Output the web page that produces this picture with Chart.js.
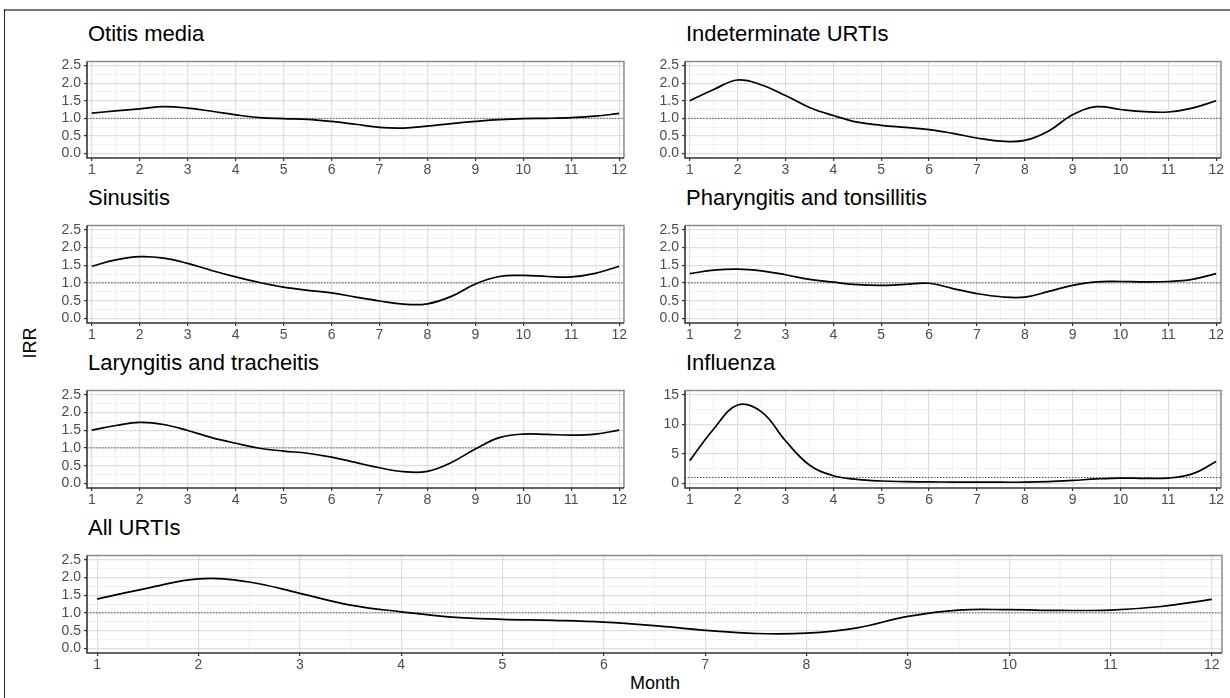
<!DOCTYPE html>
<html><head><meta charset="utf-8">
<script src="https://cdn.jsdelivr.net/npm/chart.js@4"></script>
<style>
body{margin:0;background:#fff;width:1230px;height:698px;position:relative;overflow:hidden;font-family:"Liberation Sans",Arial,sans-serif}
.frameTop{position:absolute;left:5px;top:9px;width:1225px;height:0;border-top:2px solid #7a7a7a}
.frameLeft{position:absolute;left:4px;top:9px;width:0;height:689px;border-left:1.5px solid #222}
.ttl{position:absolute;font-size:22px;line-height:22px;color:#000;white-space:nowrap}
.axt{position:absolute;font-size:18px;line-height:18px;color:#000;white-space:nowrap}
canvas{position:absolute}
</style></head>
<body>
<div class="frameTop"></div><div class="frameLeft"></div>
<div class="axt" style="left:655px;top:674px;transform:translateX(-50%)">Month</div>
<div class="axt" style="left:30px;top:343px;transform:translate(-50%,-50%) rotate(-90deg)">IRR</div>
<script>
// ---- data ----
const months = [1,1.5,2,2.5,3,3.5,4,4.5,5,5.5,6,6.5,7,7.5,8,8.5,9,9.5,10,10.5,11,11.5,12];
const monthTicks = [1,2,3,4,5,6,7,8,9,10,11,12];
const irrTicks = [0,0.5,1,1.5,2,2.5];
const fluTicks = [0,5,10,15];
const refValue = 1;

const otitisMedia   = [1.15,1.21,1.27,1.33,1.29,1.20,1.10,1.02,0.99,0.97,0.91,0.83,0.74,0.72,0.78,0.85,0.91,0.96,0.99,1.00,1.02,1.06,1.14];
const indeterminate = [1.50,1.82,2.09,1.95,1.65,1.31,1.08,0.89,0.80,0.74,0.68,0.57,0.44,0.35,0.37,0.64,1.10,1.33,1.25,1.19,1.18,1.29,1.50];
const sinusitis     = [1.47,1.65,1.74,1.70,1.55,1.35,1.17,1.01,0.88,0.79,0.72,0.60,0.49,0.40,0.41,0.62,0.97,1.18,1.21,1.18,1.17,1.27,1.47];
const pharyngitis   = [1.26,1.36,1.39,1.34,1.23,1.10,1.02,0.95,0.93,0.96,0.99,0.84,0.70,0.61,0.60,0.76,0.93,1.03,1.04,1.03,1.04,1.10,1.26];
const laryngitis    = [1.50,1.63,1.72,1.66,1.49,1.29,1.13,0.99,0.91,0.85,0.74,0.59,0.44,0.33,0.34,0.59,0.97,1.29,1.39,1.38,1.36,1.39,1.50];
const influenza     = [3.85,9.20,13.25,12.10,7.20,3.10,1.30,0.67,0.40,0.30,0.25,0.22,0.20,0.20,0.20,0.30,0.50,0.75,0.90,0.85,0.90,1.60,3.70];
const allUrtis      = [1.39,1.70,1.96,1.87,1.55,1.22,1.03,0.88,0.82,0.79,0.74,0.64,0.51,0.42,0.43,0.58,0.90,1.08,1.09,1.07,1.08,1.18,1.38];

// ---- layout ----
const X_MIN = 0.9, X_MAX = 12.1;
const YW = 50, PT = 2, PR = 3, XH = 24;
const panels = [
  {title:'Otitis media', values:otitisMedia, left:87, top:52, w:538, h:106, flu:false},
  {title:'Indeterminate URTIs', values:indeterminate, left:685, top:52, w:537, h:106, flu:false},
  {title:'Sinusitis', values:sinusitis, left:87, top:216, w:538, h:107, flu:false},
  {title:'Pharyngitis and tonsillitis', values:pharyngitis, left:685, top:216, w:537, h:107, flu:false},
  {title:'Laryngitis and tracheitis', values:laryngitis, left:87, top:381, w:538, h:107, flu:false},
  {title:'Influenza', values:influenza, left:685, top:381, w:537, h:107, flu:true},
  {title:'All URTIs', values:allUrtis, left:87, top:546, w:1135, h:107, flu:false}
];

function withMinors(majors){
  const out = [];
  for (let i=0;i<majors.length;i++){
    out.push(majors[i]);
    if (i<majors.length-1) out.push((majors[i]+majors[i+1])/2);
  }
  return out;
}
function isIn(list, v){ return list.some(t => Math.abs(t-v) < 1e-9); }

const framePlugin = {
  id:'frame',
  beforeDatasetsDraw(chart){
    const a = chart.chartArea, c = chart.ctx;
    c.save();
    c.strokeStyle = '#8a8a8a'; c.lineWidth = 1.5;
    c.beginPath();
    c.moveTo(a.left, a.top); c.lineTo(a.right, a.top); c.lineTo(a.right, a.bottom);
    c.stroke();
    c.strokeStyle = '#333'; c.lineWidth = 1.6;
    c.beginPath();
    c.moveTo(a.left, a.top); c.lineTo(a.left, a.bottom); c.lineTo(a.right, a.bottom);
    c.stroke();
    c.restore();
  }
};

panels.forEach(p => {
  const t = document.createElement('div');
  t.className = 'ttl';
  t.textContent = p.title;
  t.style.left = (p.left + 1) + 'px';
  t.style.top = (p.top - 29) + 'px';
  document.body.appendChild(t);

  const cv = document.createElement('canvas');
  const W = p.w + YW + PR, H = p.h + PT + XH;
  cv.width = W; cv.height = H;
  cv.style.left = (p.left - YW) + 'px';
  cv.style.top = (p.top - PT) + 'px';
  cv.style.width = W + 'px'; cv.style.height = H + 'px';
  document.body.appendChild(cv);

  const yMajors = p.flu ? fluTicks : irrTicks;
  const ySpan = yMajors[yMajors.length-1] - yMajors[0];
  const yMin = yMajors[0] - ySpan*0.052, yMax = yMajors[yMajors.length-1] + ySpan*0.048;
  const yAll = withMinors(yMajors);
  const xAll = withMinors(monthTicks);

  const gridColor = (majors) => (ctx) => (ctx.tick && isIn(majors, ctx.tick.value)) ? '#dedede' : '#eeeeee';
  const gridWidth = (majors) => (ctx) => (ctx.tick && isIn(majors, ctx.tick.value)) ? 1.2 : 0.8;
  const tickColor = (majors) => (ctx) => (ctx.tick && isIn(majors, ctx.tick.value)) ? '#333' : 'rgba(0,0,0,0)';

  new Chart(cv, {
    type:'line',
    data:{
      datasets:[
        {data: months.map((m,i)=>({x:m, y:p.values[i]})), borderColor:'#000', borderWidth:1.7,
         pointRadius:0, fill:false, tension:0.4},
        {data: [{x:X_MIN, y:refValue},{x:X_MAX, y:refValue}], borderColor:'#555', borderWidth:1,
         borderDash:[1.5,1.5], pointRadius:0, fill:false}
      ]
    },
    options:{
      responsive:false, animation:false, devicePixelRatio:1,
      layout:{padding:{top:PT, right:PR, left:0, bottom:0}},
      plugins:{legend:{display:false}, tooltip:{enabled:false}, title:{display:false}},
      scales:{
        x:{
          type:'linear', min:X_MIN, max:X_MAX,
          afterBuildTicks: s => { s.ticks = xAll.map(v => ({value:v})); },
          afterFit: s => { s.height = XH; },
          border:{display:false},
          grid:{color:gridColor(monthTicks), lineWidth:gridWidth(monthTicks), tickLength:3, tickColor:tickColor(monthTicks), tickWidth:1.2},
          ticks:{autoSkip:false, maxRotation:0, padding:1, color:'#4d4d4d',
                 font:{family:'"Liberation Sans", Arial, sans-serif', size:14},
                 callback:(v) => isIn(monthTicks, v) ? String(Math.round(v)) : ''}
        },
        y:{
          type:'linear', min:yMin, max:yMax,
          afterBuildTicks: s => { s.ticks = yAll.map(v => ({value:v})); },
          afterFit: s => { s.width = YW; },
          border:{display:false},
          grid:{color:gridColor(yMajors), lineWidth:gridWidth(yMajors), tickLength:3, tickColor:tickColor(yMajors), tickWidth:1.2},
          ticks:{autoSkip:false, padding:3, color:'#4d4d4d',
                 font:{family:'"Liberation Sans", Arial, sans-serif', size:14},
                 callback:(v) => isIn(yMajors, v) ? (p.flu ? String(Math.round(v)) : v.toFixed(1)) : ''}
        }
      }
    },
    plugins:[framePlugin]
  });
});
</script>
</body></html>
